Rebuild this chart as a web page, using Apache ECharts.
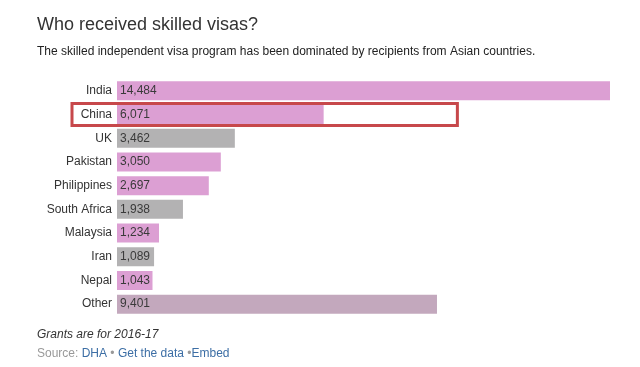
<!DOCTYPE html>
<html><head><meta charset="utf-8">
<script src="https://cdn.jsdelivr.net/npm/echarts@6/dist/echarts.min.js"></script>
<style>html,body{margin:0;padding:0;background:#fff}#c{width:640px;height:367px}</style>
</head><body><div id="c"></div>
<script>
const countries = ['India','China','UK','Pakistan','Philippines','South Africa','Malaysia','Iran','Nepal','Other'];
const grants = [14484,6071,3462,3050,2697,1938,1234,1089,1043,9401];
const groups = ['asia','asia','other','asia','asia','other','asia','other','asia','rest'];
const highlighted = 'China';
const highlightExtent = 10000;
const groupColors = {asia:'#dc9fd3', other:'#b3b2b3', rest:'#c3a8bd'};
const FONT = 'Helvetica, Arial, "Liberation Sans", sans-serif';

const chart = echarts.init(document.getElementById('c'), null, {renderer:'canvas'});
const opt = {
  animation:false,
  grid:{left:117, top:79, width:493, height:237, containLabel:false},
  xAxis:{type:'value', min:0, max:14484, show:false},
  yAxis:{type:'category', data:countries, inverse:true,
    axisLine:{show:false}, axisTick:{show:false}, splitLine:{show:false},
    axisLabel:{color:'#333', fontSize:12, fontFamily:FONT, margin:5}},
  series:[{type:'bar', barWidth:19,
    data:grants.map((v,i)=>({value:v, itemStyle:{color:groupColors[groups[i]]}})),
    label:{show:true, position:'insideLeft', distance:3, color:'#3a3a3a', fontSize:12, fontFamily:FONT,
      formatter:p=>p.value.toLocaleString('en-US')}
  }]
};
chart.setOption(opt);
const idx = countries.indexOf(highlighted);
const pL = chart.convertToPixel({gridIndex:0},[0, idx]);
const pR = chart.convertToPixel({gridIndex:0},[highlightExtent, idx]);
chart.setOption({graphic:[
  {type:'rect', shape:{x:72, y:pL[1]-11, width:pR[0]-72, height:22}, style:{fill:'none', stroke:'#c7484b', lineWidth:3}},
  {type:'text', left:37, top:16, style:{text:'Who received skilled visas?', font:'18px '+FONT, fill:'#333'}},
  {type:'text', left:37, top:46, style:{text:'The skilled independent visa program has been dominated by recipients from Asian countries.', font:'12px '+FONT, fill:'#222'}},
  {type:'text', left:37, top:329, style:{text:'Grants are for 2016-17', font:'italic 12px '+FONT, fill:'#333'}},
  {type:'text', left:37, top:348, style:{rich:{g:{fill:'#999',font:'12px '+FONT}, b:{fill:'#3c6ea5',font:'12px '+FONT}}, text:'{g|Source: }{b|DHA}{g| • }{b|Get the data}{g| •}{b|Embed}'}}
]});
</script></body></html>
